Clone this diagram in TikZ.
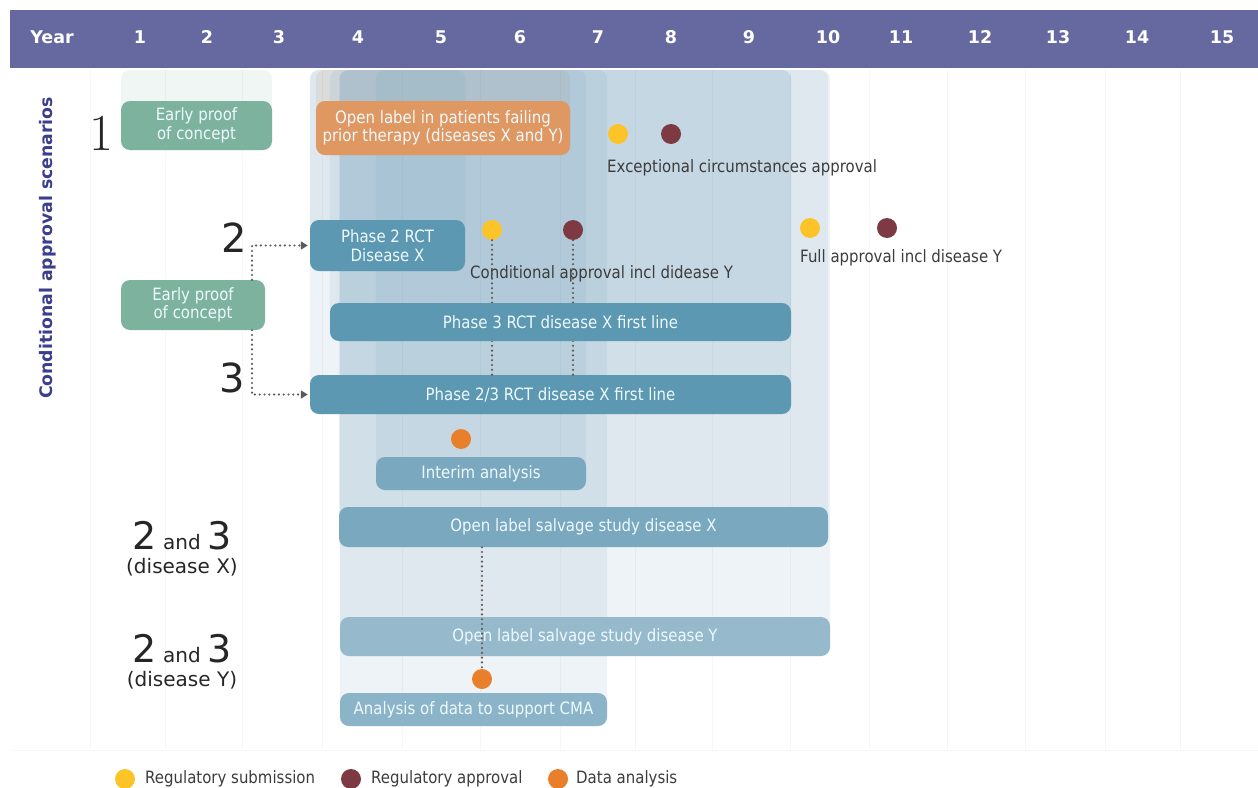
\documentclass[tikz,border=0pt]{standalone}
\usepackage{fontspec}
\newfontfamily\vfont{DejaVu Sans}
\newfontfamily\cfont{DejaVu Sans}[FakeStretch=0.88]
\usepackage{xcolor}
\definecolor{hdrblue}{RGB}{102,104,160}
\definecolor{titlenavy}{RGB}{58,62,140}
\definecolor{pocgreen}{RGB}{125,179,158}
\definecolor{olorange}{RGB}{224,152,98}
\definecolor{rctblue}{RGB}{92,152,177}
\definecolor{midblue}{RGB}{122,168,190}
\definecolor{paleblue}{RGB}{150,186,204}
\definecolor{cmablue}{RGB}{140,180,200}
\definecolor{panelblue}{RGB}{110,155,182}
\definecolor{subyellow}{RGB}{252,196,40}
\definecolor{apprmaroon}{RGB}{125,58,66}
\definecolor{dataorange}{RGB}{233,127,43}
\definecolor{txtgrey}{RGB}{60,60,60}
\definecolor{linkgrey}{RGB}{95,88,88}
\usepackage{tikz}
\usetikzlibrary{arrows.meta, positioning}
\pgfdeclarelayer{background}
\pgfsetlayers{background,main}

\begin{document}
\begin{tikzpicture}[x=1pt, y=-1pt,
    phasebox/.style={rounded corners=9pt, inner sep=0pt, align=center, text=white!93!cyan,
      font=\cfont\fontsize{17}{18.5}\selectfont},
    panel/.style={rounded corners=9pt, fill=panelblue, fill opacity=0.12},
    mark dot/.style={circle, minimum size=20pt, inner sep=0pt},
    note/.style={anchor=west, inner sep=0pt, text=txtgrey, font=\cfont\fontsize{17}{18}\selectfont},
    dotline/.style={draw=linkgrey, line width=2.4pt, line cap=round, dash pattern=on 0pt off 4.8pt},
    yearlbl/.style={text=white, inner sep=0pt, font=\vfont\bfseries\fontsize{17.5}{19}\selectfont},
    bignum/.style={text=black!85, inner sep=0pt, font=\vfont\fontsize{40}{42}\selectfont},
    gridln/.style={draw=black!3, line width=1pt}]
  \useasboundingbox (0,0) rectangle (1258,787);
  \coordinate (top) at (0,70);

  % header
  \node[fill=hdrblue, minimum width=1248pt, minimum height=58pt, anchor=north west, inner sep=0pt]
        (hdr) at (10,10) {};
  \node[yearlbl] (yrlbl) at (52,37) {Year};
  \foreach \yr/\xx in {1/140,2/207,3/279,4/358,5/441,6/520,7/598,8/671,9/749,10/828,
                       11/901,12/980,13/1058,14/1137,15/1222}
    \node[yearlbl] (yr\yr) at (\xx,37) {\yr};

  \node[rotate=90, text=titlenavy, inner sep=0pt, font=\vfont\bfseries\fontsize{17.3}{19}\selectfont]
        (ttl) at (48,248) {Conditional approval scenarios};

  % scenario numbers
  \node[text=black!85, inner sep=0pt, font=\rmfamily\fontsize{52}{54}\selectfont] (sc1) at (101,133) {1};
  \node[bignum] (sc2) at (234,238) {2};
  \node[bignum] (sc3) at (232,378) {3};
  \node[anchor=base, inner sep=0pt, text=black!85, font=\vfont] (sc23x) at (182,549)
        {\fontsize{38}{38}\selectfont 2\fontsize{20}{20}\selectfont{} and \fontsize{38}{38}\selectfont 3};
  \node[anchor=base, inner sep=0pt, text=black!85, font=\vfont\fontsize{20}{22}\selectfont] (dsx) at (182,573)
        {(disease X)};
  \node[anchor=base, inner sep=0pt, text=black!85, font=\vfont] (sc23y) at (182,662)
        {\fontsize{38}{38}\selectfont 2\fontsize{20}{20}\selectfont{} and \fontsize{38}{38}\selectfont 3};
  \node[anchor=base, inner sep=0pt, text=black!85, font=\vfont\fontsize{20}{22}\selectfont] (dsy) at (182,686)
        {(disease Y)};

  % studies
  \node[phasebox, fill=pocgreen, minimum width=151pt, minimum height=49pt] (poc1) at (196.5,125.5)
        {Early proof\\of concept};
  \node[phasebox, fill=olorange, minimum width=254pt, minimum height=54pt] (olabel) at (443,128)
        {Open label in patients failing\\prior therapy (diseases X and Y)};
  \node[phasebox, fill=rctblue, minimum width=155pt, minimum height=51pt] (ph2) at (387.5,245.5)
        {Phase 2 RCT\\Disease X};
  \node[phasebox, fill=pocgreen, minimum width=144pt, minimum height=50pt] (poc2) at (193,305)
        {Early proof\\of concept};
  \node[phasebox, fill=rctblue, minimum width=481pt, minimum height=39pt] (p23) at (550.5,394.5)
        {Phase 2/3 RCT disease X first line};
  \node[phasebox, fill=midblue, minimum width=210pt, minimum height=33pt] (interim) at (481,473.5)
        {Interim analysis};
  \node[phasebox, fill=midblue, minimum width=489pt, minimum height=40pt] (olx) at (583.5,527)
        {Open label salvage study disease X};
  \node[phasebox, fill=paleblue, minimum width=490pt, minimum height=39pt] (oly) at (585,636.5)
        {Open label salvage study disease Y};
  \node[phasebox, fill=cmablue, minimum width=267pt, minimum height=33pt] (cma) at (473.5,709.5)
        {Analysis of data to support CMA};

  % milestones
  \node[mark dot, fill=subyellow] (sub1) at (618,134) {};
  \node[mark dot, fill=apprmaroon] (appr1) at (671,134) {};
  \node[mark dot, fill=subyellow] (sub2) at (492,230) {};
  \node[mark dot, fill=apprmaroon] (appr2) at (573,230) {};
  \node[mark dot, fill=subyellow] (sub3) at (810,228) {};
  \node[mark dot, fill=apprmaroon] (appr3) at (887,228) {};
  \node[mark dot, fill=dataorange] (ana1) at (461,439) {};
  \node[mark dot, fill=dataorange] (ana2) at (482,679) {};

  \node[note] (exc) at (607,168) {Exceptional circumstances approval};
  \node[note] (cond) at (470,274) {Conditional approval incl didease Y};
  \node[note] (full) at (800,258) {Full approval incl disease Y};

  \draw[dotline] (sub2.south) -- (sub2 |- p23.north);
  \draw[dotline] (appr2.south) -- (appr2 |- p23.north);
  \draw[dotline] (ana2 |- olx.south) -- (ana2.north);
  \draw[dotline, -{Triangle[length=7pt,width=8pt]}, shorten >=2pt] ([xshift=59pt]poc2.north) |- (ph2.west);
  \draw[dotline, -{Triangle[length=7pt,width=8pt]}, shorten >=2pt] ([xshift=59pt]poc2.south) |- (p23.west);

  \node[phasebox, fill=rctblue, minimum width=461pt, minimum height=38pt] (ph3) at (560.5,322)
        {Phase 3 RCT disease X first line};

  % legend
  \node[mark dot, fill=subyellow] (lgsub) at (125,779) {};
  \node[note, right=20pt of lgsub.center] (lgsubt) {Regulatory submission};
  \node[mark dot, fill=apprmaroon] (lgappr) at (351,779) {};
  \node[note, right=20pt of lgappr.center] (lgapprt) {Regulatory approval};
  \node[mark dot, fill=dataorange] (lgana) at (558,779) {};
  \node[note, right=18pt of lgana.center] (lganat) {Data analysis};

  \begin{pgfonlayer}{background}
    \foreach \gx in {90,165,242,322,402,480,560,635,712,790,869,947,1025,1105,1180}
      \draw[gridln] (\gx,70) -- (\gx,750);
    \draw[gridln] (12,750) -- (1258,750);
    \fill[rounded corners=9pt, fill=pocgreen, fill opacity=0.12] (poc1.west |- top) rectangle (poc1.south east);
    \fill[rounded corners=9pt, fill=olorange, fill opacity=0.15] (olabel.west |- top) rectangle (olabel.south east);
    \foreach \b in {ph2,ph3,p23,interim,olx,oly,cma}
      \fill[panel] (\b.west |- top) rectangle (\b.south east);
  \end{pgfonlayer}
\end{tikzpicture}
\end{document}
